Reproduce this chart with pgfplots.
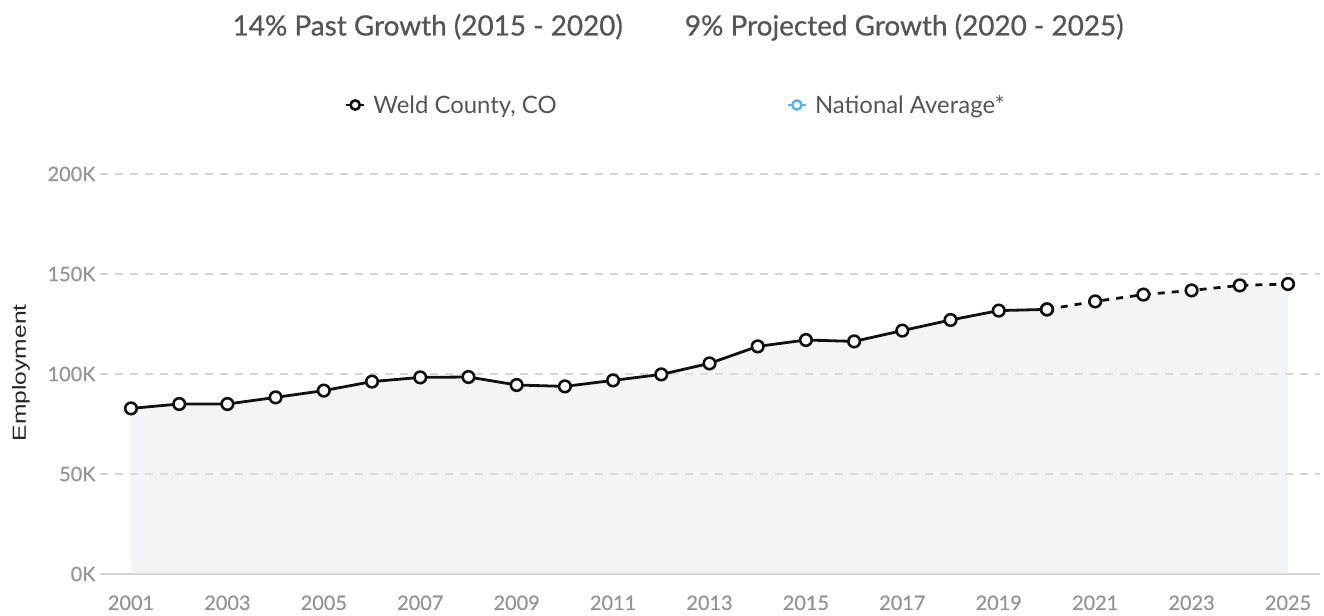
\documentclass[border=0pt]{standalone}
\usepackage{pgfplots}
\usepackage{pgfplotstable}
\pgfplotsset{compat=1.18}
\usepackage{fontspec}
\setmainfont{Lato}
\newfontfamily\semib{Lato}[FakeBold=0.7]
\newfontfamily\labfont{Liberation Sans}
\definecolor{fillgray}{HTML}{E7E9ED}
\definecolor{gridgray}{HTML}{D4D4D4}
\definecolor{tickgray}{HTML}{959595}
\definecolor{textgray}{HTML}{555555}
\definecolor{natblue}{HTML}{55B4F0}
\definecolor{linecol}{HTML}{111111}

\pgfplotstableread{
year emp
2001 82.8
2002 85.0
2003 85.0
2004 88.3
2005 91.7
2006 96.2
2007 98.3
2008 98.5
2009 94.5
2010 93.8
2011 96.8
2012 99.8
2013 105.3
2014 113.8
2015 117.0
2016 116.3
2017 121.7
2018 127.0
2019 131.7
2020 132.3
}\pastdata

\pgfplotstableread{
year emp
2020 132.3
2021 136.3
2022 139.7
2023 141.8
2024 144.3
2025 145.0
}\projdata

\pgfplotstableread{
year emp
2001 82.8
2002 85.0
2003 85.0
2004 88.3
2005 91.7
2006 96.2
2007 98.3
2008 98.5
2009 94.5
2010 93.8
2011 96.8
2012 99.8
2013 105.3
2014 113.8
2015 117.0
2016 116.3
2017 121.7
2018 127.0
2019 131.7
2020 132.3
2021 136.3
2022 139.7
2023 141.8
2024 144.3
2025 145.0
}\alldata

\begin{document}
\begin{tikzpicture}
\begin{axis}[
  at={(100bp,42bp)}, anchor=south west,
  scale only axis, width=1220bp, height=400bp,
  xmin=2000.357, xmax=2025.664, ymin=0, ymax=200,
  axis x line*=bottom, axis y line*=left,
  x axis line style={draw=gridgray, line width=1.6bp, -},
  y axis line style={draw=none},
  major tick length=0pt,
  xtick={2001,2003,2005,2007,2009,2011,2013,2015,2017,2019,2021,2023,2025},
  xticklabels={2001,2003,2005,2007,2009,2011,2013,2015,2017,2019,2021,2023,2025},
  ytick={0,50,100,150,200},
  yticklabels={0K,50K,100K,150K,200K},
  xticklabel style={font=\semib\fontsize{20}{24}\selectfont, text=tickgray, yshift=-18bp},
  yticklabel style={font=\semib\fontsize{20}{24}\selectfont, text=tickgray, anchor=east, xshift=-1bp},
  ymajorgrids,
  grid style={draw=gridgray, line width=1.3bp, dash pattern=on 8bp off 7bp},
  ylabel={\scalebox{1.3}[1]{\labfont\fontsize{19}{22}\selectfont\color{black!85}Employment}},
  every axis y label/.style={at={(axis description cs:-0.0648,0.503)}, rotate=90, anchor=center},
  title={14\% Past Growth (2015 - 2020)\hspace{62bp}9\% Projected Growth (2020 - 2025)},
  title style={at={(0.4738,1.352)}, anchor=center, font=\semib\fontsize{28}{33}\selectfont, text=textgray},
  legend columns=2,
  legend style={at={(0.472,1.1725)}, anchor=center, draw=none, fill=none,
    font=\fontsize{24}{28}\selectfont, text=textgray,
    /tikz/every odd column/.append style={column sep=6bp},
    /tikz/every even column/.append style={column sep=228bp}},
  legend image code/.code={\draw[#1, line width=2.4bp, mark size=4.6bp, mark repeat=2, mark phase=2] plot coordinates {(0bp,0bp) (9bp,0bp) (18bp,0bp)};},
]
\addplot[fill=fillgray, fill opacity=0.5, draw=none, forget plot] table[x=year, y=emp]{\alldata} \closedcycle;
\addplot[linecol, line width=2.8bp, mark=*, mark size=5.8bp, mark options={fill=white, draw=linecol, line width=2.6bp, solid}] table[x=year, y=emp]{\pastdata};
\addlegendentry{Weld County, CO}
\addplot[linecol, line width=2.8bp, dash pattern=on 7bp off 7bp, mark=*, mark size=5.8bp, mark options={fill=white, draw=linecol, line width=2.6bp, solid}, forget plot] table[x=year, y=emp]{\projdata};
\addlegendimage{natblue, line width=2.4bp, mark=*, mark options={fill=white, draw=natblue, line width=2.4bp, solid}}
\addlegendentry{National Average*}
\end{axis}
\path (0,0) rectangle (1324bp,616bp);
\end{tikzpicture}
\end{document}
